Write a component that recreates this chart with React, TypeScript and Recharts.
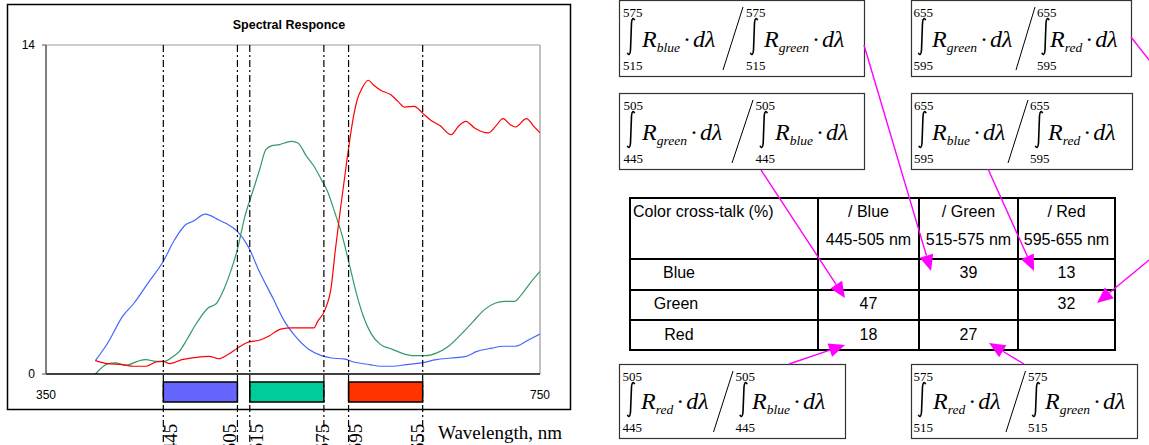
import React from 'react';
import { LineChart, Line, XAxis, YAxis, ReferenceLine, ReferenceArea } from 'recharts';

// spectral response curves (wavelength nm / response)
const blueNm = [390, 400, 412, 421, 433, 445, 454, 463, 469, 479, 490, 496, 505, 514, 522, 534, 543, 552, 563, 573, 581, 591, 600, 612, 621, 630, 642, 654, 666, 678, 690, 699, 711, 720, 730, 741, 750];
const blueVal = [0.57, 1.32, 2.45, 3.0, 3.9, 4.8, 5.7, 6.35, 6.5, 6.8, 6.55, 6.4, 6.07, 5.4, 4.45, 3.2, 2.25, 1.6, 1.04, 0.78, 0.68, 0.64, 0.5, 0.4, 0.33, 0.33, 0.4, 0.47, 0.61, 0.68, 0.75, 0.96, 1.1, 1.18, 1.18, 1.46, 1.7];

const greenNm = [390, 400, 406, 415, 424, 431, 439, 446, 452, 458, 464, 472, 481, 488, 494, 500, 505, 511, 517, 523, 528, 533, 539, 543, 549, 554, 561, 567, 573, 578, 584, 590, 596, 602, 607, 613, 621, 630, 639, 648, 657, 666, 676, 687, 696, 705, 714, 721, 729, 735, 742, 750];
const greenVal = [0, 0.43, 0.47, 0.37, 0.54, 0.61, 0.54, 0.54, 0.71, 0.96, 1.46, 2.17, 2.8, 3.0, 3.6, 4.44, 5.3, 6.7, 7.7, 8.7, 9.55, 9.72, 9.76, 9.83, 9.9, 9.83, 9.26, 8.84, 8.27, 7.77, 6.85, 5.86, 4.58, 3.3, 2.45, 1.74, 1.25, 1.06, 0.87, 0.78, 0.78, 0.89, 1.18, 1.74, 2.24, 2.74, 3.02, 3.09, 3.09, 3.38, 3.87, 4.37];

const redNm = [390, 400, 412, 421, 431, 439, 445, 450, 460, 472, 482, 490, 497, 505, 512, 524, 531, 540, 549, 558, 567, 570, 576, 581, 584, 588, 593, 596, 599, 602, 606, 611, 615, 621, 629, 635, 640, 648, 655, 661, 669, 678, 684, 690, 697, 708, 714, 720, 726, 730, 739, 745, 750];
const redVal = [0.57, 0.44, 0.4, 0.33, 0.33, 0.51, 0.54, 0.44, 0.61, 0.71, 0.75, 0.65, 0.82, 1.1, 1.32, 1.46, 1.63, 1.91, 1.96, 1.96, 1.96, 2.24, 2.74, 3.73, 5.15, 6.85, 8.84, 9.97, 10.96, 11.67, 12.17, 12.5, 12.31, 12.07, 11.89, 11.6, 11.36, 11.39, 11.1, 10.82, 10.57, 10.18, 10.54, 10.75, 10.47, 10.26, 10.54, 10.87, 10.61, 10.51, 10.87, 10.54, 10.26];

const xTicks = [350, 750];
const yTicks = [0, 14];

// integration bands
const bandFrom = [445, 515, 595];
const bandTo = [505, 575, 655];
const bandColors = ['#6666ff', '#00cc99', '#ff3300'];
const bandEdges = [445, 505, 515, 575, 595, 655];
const edgeLabelDx = [14, -1, 13, 5, 13, 1];

// cross-talk table
const tableTitle = 'Color cross-talk (%)';
const colNames = ['/ Blue', '/ Green', '/ Red'];
const colRanges = ['445-505 nm', '515-575 nm', '595-655 nm'];
const rowNames = ['Blue', 'Green', 'Red'];
const rowBlue = [null, 39, 13];
const rowGreen = [47, null, 32];
const rowRed = [18, 27, null];

// formulas: limits, numerator / denominator subscripts
const formulaLo = [515, 595, 445, 595, 445, 515];
const formulaHi = [575, 655, 505, 655, 505, 575];
const formulaNum = ['blue', 'green', 'green', 'blue', 'red', 'red'];
const formulaDen = ['green', 'red', 'blue', 'red', 'blue', 'green'];

const toPts = (nm: number[], v: number[]) => nm.map((n, i) => ({ nm: n, v: v[i] }));
const blueData = toPts(blueNm, blueVal);
const greenData = toPts(greenNm, greenVal);
const redData = toPts(redNm, redVal);

const SERIF = 'Liberation Serif, Times New Roman, serif';
const SANS = 'Liberation Sans, Arial, sans-serif';

function EdgeLine(p: any) {
  const { x1, y1, x2, y2, label, dx } = p;
  const bottom = Math.max(y1, y2);
  return (
    <g>
      <line x1={x1} y1={y1} x2={x2} y2={y2} stroke="#000" strokeWidth={1.2} strokeDasharray="7 3 2 3" />
      <text
        transform={`translate(${x1 + dx},${bottom - 23}) rotate(-90)`}
        textAnchor="end"
        fontFamily={SERIF}
        fontSize={19}
        fill="#000"
      >
        {label}
      </text>
    </g>
  );
}

// box geometry for the six formulas
const boxes = [
  { x: 619, y: 0, w: 245, h: 76, l1: 4, i1: 12, r1: 23, st: 124, sb: 104, l2: 127, i2: 135, r2: 145 },
  { x: 911, y: 0, w: 220, h: 76, l1: 2.5, i1: 11, r1: 21, st: 124, sb: 105, l2: 126, i2: 134.5, r2: 139 },
  { x: 619, y: 93, w: 245, h: 76, l1: 4.5, i1: 12, r1: 23, st: 134, sb: 113, l2: 136.5, i2: 144.7, r2: 156 },
  { x: 911, y: 93, w: 221, h: 76, l1: 3, i1: 11.5, r1: 21, st: 117, sb: 97, l2: 119, i2: 128, r2: 137 },
  { x: 619, y: 364, w: 226, h: 74, l1: 3.5, i1: 12, r1: 22, st: 114, sb: 94.5, l2: 116.6, i2: 124.5, r2: 133 },
  { x: 911, y: 364, w: 226, h: 74, l1: 2.5, i1: 11, r1: 22, st: 114.5, sb: 95, l2: 117, i2: 125, r2: 134 },
];

function Integral({ cx, t, b }: { cx: number; t: number; b: number }) {
  const d = `M ${cx + 3.6} ${t + 2.2} C ${cx + 2.6} ${t - 0.6} ${cx + 0.8} ${t} ${cx + 0.5} ${t + 5} L ${cx - 0.5} ${b - 5} C ${cx - 0.8} ${b} ${cx - 2.6} ${b + 0.6} ${cx - 3.6} ${b - 2.2}`;
  return <path d={d} fill="none" stroke="#000" strokeWidth={1.6} />;
}

function Term({ x, y, sub }: { x: number; y: number; sub: string }) {
  return (
    <text x={x} y={y} fontFamily={SERIF} fontStyle="italic" fill="#000">
      <tspan fontSize={24}>R</tspan>
      <tspan fontSize={13.5} dy={5}>{sub}</tspan>
      <tspan fontSize={24} dy={-5} dx={3} fontStyle="normal">·</tspan>
      <tspan fontSize={24} dx={2}>dλ</tspan>
    </text>
  );
}

function Formula({ i }: { i: number }) {
  const b = boxes[i];
  const top = b.y;
  const hiY = top + 17;
  const loY = top + b.h - 6;
  const rY = top + b.h - 29;
  const intT = top + 18;
  const intB = top + b.h - 21;
  return (
    <g>
      <rect x={b.x + 0.5} y={b.y + 0.5} width={b.w} height={b.h} fill="#fff" stroke="#333" strokeWidth={1.2} />
      <text x={b.x + b.l1} y={hiY} fontFamily={SERIF} fontSize={13}>{formulaHi[i]}</text>
      <text x={b.x + b.l1} y={loY} fontFamily={SERIF} fontSize={13}>{formulaLo[i]}</text>
      <Integral cx={b.x + b.i1} t={intT} b={intB} />
      <Term x={b.x + b.r1} y={rY} sub={formulaNum[i]} />
      <line x1={b.x + b.st} y1={top + 7} x2={b.x + b.sb} y2={top + b.h - 6} stroke="#000" strokeWidth={1} />
      <text x={b.x + b.l2} y={hiY} fontFamily={SERIF} fontSize={13}>{formulaHi[i]}</text>
      <text x={b.x + b.l2} y={loY} fontFamily={SERIF} fontSize={13}>{formulaLo[i]}</text>
      <Integral cx={b.x + b.i2} t={intT} b={intB} />
      <Term x={b.x + b.r2} y={rY} sub={formulaDen[i]} />
    </g>
  );
}

function Arrow({ x1, y1, x2, y2, head = true }: { x1: number; y1: number; x2: number; y2: number; head?: boolean }) {
  const len = Math.hypot(x2 - x1, y2 - y1);
  const ux = (x2 - x1) / len;
  const uy = (y2 - y1) / len;
  const hl = 16;
  const hw = 7;
  const bx = x2 - ux * hl;
  const by = y2 - uy * hl;
  return (
    <g>
      <line x1={x1} y1={y1} x2={head ? bx : x2} y2={head ? by : y2} stroke="#ff00ff" strokeWidth={1.4} />
      {head && (
        <polygon
          points={`${x2},${y2} ${bx - uy * hw},${by + ux * hw} ${bx + uy * hw},${by - ux * hw}`}
          fill="#ff00ff"
        />
      )}
    </g>
  );
}

const colX = [630, 818, 919, 1018, 1115];
const rowY = [198, 259, 290, 320, 350];

function Table() {
  const rows = [rowBlue, rowGreen, rowRed];
  const rowBase = [278, 309, 340];
  const rowNameCx = [679, 676, 679];
  return (
    <g fontFamily={SANS} fontSize={16} fill="#000">
      <rect x={colX[0]} y={rowY[0]} width={colX[4] - colX[0]} height={rowY[4] - rowY[0]} fill="#fff" stroke="#000" strokeWidth={2} />
      {colX.slice(1, 4).map((x) => (
        <line key={x} x1={x} y1={rowY[0]} x2={x} y2={rowY[4]} stroke="#000" strokeWidth={2} />
      ))}
      {rowY.slice(1, 4).map((y) => (
        <line key={y} x1={colX[0]} y1={y} x2={colX[4]} y2={y} stroke="#000" strokeWidth={2} />
      ))}
      <text x={633} y={217}>{tableTitle}</text>
      {colNames.map((c, i) => (
        <text key={c} x={(colX[i + 1] + colX[i + 2]) / 2} y={217} textAnchor="middle">{c}</text>
      ))}
      {colRanges.map((c, i) => (
        <text key={c} x={(colX[i + 1] + colX[i + 2]) / 2} y={245} textAnchor="middle">{c}</text>
      ))}
      {rowNames.map((r, j) => (
        <g key={r}>
          <text x={rowNameCx[j]} y={rowBase[j]} textAnchor="middle">{r}</text>
          {rows[j].map((v, i) =>
            v == null ? null : (
              <text key={i} x={(colX[i + 1] + colX[i + 2]) / 2} y={rowBase[j]} textAnchor="middle">{v}</text>
            )
          )}
        </g>
      ))}
    </g>
  );
}

export default function App() {
  return (
    <div style={{ position: 'absolute', left: 0, top: 0, width: 1149, height: 445, background: '#fff', overflow: 'hidden' }}>
      <div style={{ position: 'absolute', left: 0, top: 0 }}>
        <LineChart width={580} height={445} margin={{ top: 45, right: 40, bottom: 41, left: 10 }}>
          <XAxis
            type="number"
            dataKey="nm"
            domain={[350, 750]}
            ticks={xTicks}
            interval={0}
            allowDataOverflow
            height={30}
            tickLine={false}
            tickMargin={10}
            axisLine={{ stroke: '#000', strokeWidth: 1.5 }}
            tick={{ fill: '#000', fontSize: 12, fontFamily: SANS }}
          />
          <YAxis
            type="number"
            domain={[0, 14]}
            ticks={yTicks}
            interval={0}
            allowDataOverflow
            width={36}
            tickSize={4}
            tickMargin={7}
            axisLine={{ stroke: '#555', strokeWidth: 1.5 }}
            tickLine={{ stroke: '#555' }}
            tick={{ fill: '#000', fontSize: 12, fontFamily: SANS }}
          />
          <ReferenceLine y={14} stroke="#999" strokeWidth={1.2} />
          <ReferenceLine x={750} stroke="#999" strokeWidth={1.2} />
          {bandFrom.map((f, i) => (
            <ReferenceArea
              key={f}
              x1={f}
              x2={bandTo[i]}
              y1={-0.34}
              y2={-1.19}
              ifOverflow="visible"
              fill={bandColors[i]}
              fillOpacity={1}
              stroke="#000"
              strokeWidth={1.5}
            />
          ))}
          <Line data={blueData} dataKey="v" type="monotone" stroke="#4466ff" strokeWidth={1.2} dot={false} isAnimationActive={false} />
          <Line data={greenData} dataKey="v" type="monotone" stroke="#339966" strokeWidth={1.2} dot={false} isAnimationActive={false} />
          <Line data={redData} dataKey="v" type="monotone" stroke="#ff0000" strokeWidth={1.2} dot={false} isAnimationActive={false} />
          {bandEdges.map((e, i) => (
            <ReferenceLine
              key={e}
              segment={[{ x: e, y: 14 }, { x: e, y: -3.1 }]}
              ifOverflow="visible"
              stroke="#000"
              shape={(p: any) => <EdgeLine {...p} label={String(e)} dx={edgeLabelDx[i]} />}
            />
          ))}
        </LineChart>
      </div>
      <svg width={1149} height={445} style={{ position: 'absolute', left: 0, top: 0, pointerEvents: 'none' }}>
        <rect x={7.5} y={4.5} width={563} height={405} fill="none" stroke="#000" strokeWidth={1.5} />
        <text x={289} y={29} textAnchor="middle" fontFamily={SANS} fontWeight="bold" fontSize={12.5}>Spectral Responce</text>
        <text x={438} y={439} fontFamily={SERIF} fontSize={19}>Wavelength, nm</text>
        {boxes.map((_, i) => (
          <Formula key={i} i={i} />
        ))}
        <Table />
        <Arrow x1={864} y1={45} x2={931} y2={271} />
        <Arrow x1={761} y1={170} x2={845} y2={298} />
        <Arrow x1={988} y1={169} x2={1034} y2={271} />
        <Arrow x1={789} y1={364} x2={845} y2={345} />
        <Arrow x1={1024} y1={364} x2={989} y2={343} />
        <Arrow x1={1131} y1={37} x2={1160} y2={74} head={false} />
        <Arrow x1={1160} y1={251} x2={1097} y2={303} />
      </svg>
    </div>
  );
}
